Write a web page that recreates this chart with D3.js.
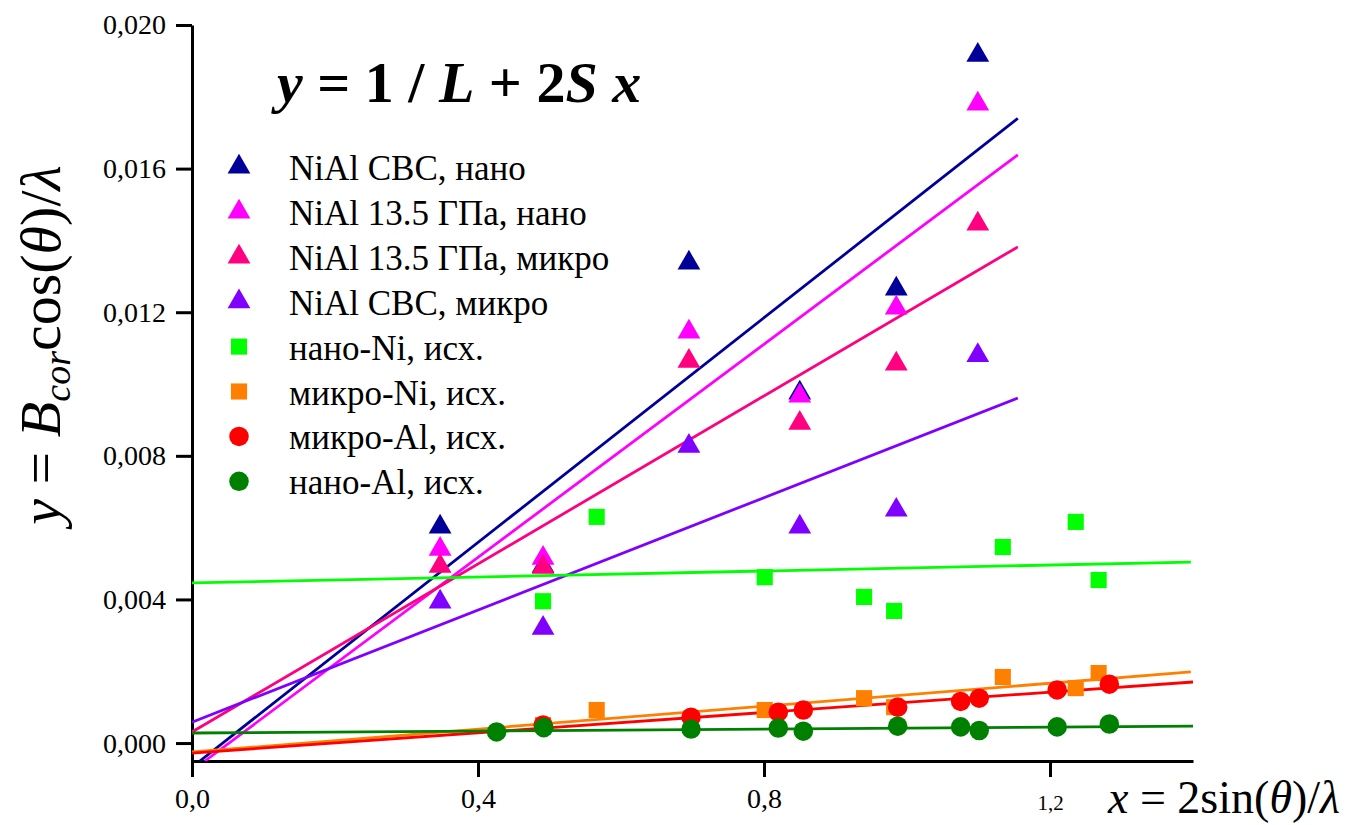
<!DOCTYPE html>
<html>
<head>
  <meta charset="utf-8">
  <title>Williamson-Hall</title>
  <script src="https://d3js.org/d3.v7.min.js"></script>
  <style>
    body { margin: 0; background: #fff; }
  </style>
</head>
<body>
  <div id="chart"></div>

  <script>
    // данные
    const xTriangles = [0.347, 0.491, 0.695, 0.850, 0.985, 1.099];
    const nialCbcNano = [0.00602, 0.00493, 0.01337, 0.00975, 0.01265, 0.01916];
    const nial135Nano = [0.00540, 0.00515, 0.01145, 0.00967, 0.01212, 0.01780];
    const nial135Micro = [0.00493, 0.00490, 0.01064, 0.00891, 0.01056, 0.01446];
    const nialCbcMicro = [0.00393, 0.00320, 0.00827, 0.00602, 0.00649, 0.01080];

    const xNiNano = [0.491, 0.566, 0.801, 0.940, 0.982, 1.134, 1.236, 1.268];
    const niNano = [0.00395, 0.00630, 0.00462, 0.00407, 0.00368, 0.00546, 0.00616, 0.00454];
    const xNiMicro = [0.491, 0.566, 0.801, 0.940, 0.982, 1.134, 1.236, 1.268];
    const niMicro = [0.00050, 0.00092, 0.00092, 0.00125, 0.00100, 0.00184, 0.00153, 0.00195];
    const xAlMicro = [0.491, 0.698, 0.820, 0.855, 0.987, 1.075, 1.101, 1.210, 1.283];
    const alMicro = [0.00050, 0.00072, 0.00086, 0.00092, 0.00100, 0.00116, 0.00125, 0.00148, 0.00164];
    const xAlNano = [0.426, 0.492, 0.698, 0.820, 0.855, 0.987, 1.075, 1.101, 1.210, 1.283];
    const alNano = [0.00031, 0.00043, 0.00039, 0.00042, 0.00033, 0.00047, 0.00045, 0.00035, 0.00045, 0.00053];

    // линии аппроксимации: [x0, y0, x1, y1]
    const fitLines = [
      [0.011, -0.00050, 1.155, 0.01740],
      [0.018, -0.00050, 1.155, 0.01638],
      [0.0, 0.00031, 1.155, 0.01382],
      [0.0, 0.00058, 1.155, 0.00961],
      [0.0, 0.00446, 1.397, 0.00504],
      [0.0, -0.00025, 1.397, 0.00198],
      [0.0, -0.00028, 1.400, 0.00170],
      [0.0, 0.00028, 1.400, 0.00047]
    ];

    const names = ["NiAl CBC, нано", "NiAl 13.5 ГПа, нано", "NiAl 13.5 ГПа, микро", "NiAl CBC, микро",
      "нано-Ni, исх.", "микро-Ni, исх.", "микро-Al, исх.", "нано-Al, исх."];
    const colors = ["#000099", "#ff00ff", "#ff0080", "#8000ff", "#00ff00", "#ff8000", "#ff0000", "#008000"];
    const shapes = ["tri", "tri", "tri", "tri", "sq", "sq", "circ", "circ"];
    const xsList = [xTriangles, xTriangles, xTriangles, xTriangles, xNiNano, xNiMicro, xAlMicro, xAlNano];
    const ysList = [nialCbcNano, nial135Nano, nial135Micro, nialCbcMicro, niNano, niMicro, alMicro, alNano];

    const xMajor = [0, 0.4, 0.8, 1.2];
    const xMinor = [0.2, 0.6, 1.0, 1.4];
    const yMajor = [0, 0.004, 0.008, 0.012, 0.016, 0.020];
    const yMinor = [0.002, 0.006, 0.010, 0.014, 0.018];

    const serif = "'Liberation Serif', 'Times New Roman', serif";
    const width = 1358, height = 825;
    const svg = d3.select("#chart").append("svg")
      .attr("width", width)
      .attr("height", height)
      .attr("font-family", serif);

    const x = d3.scaleLinear().domain([0, 1.4]).range([192, 1193]);
    const y = d3.scaleLinear().domain([-0.0005, 0.020]).range([761, 25]);

    svg.append("clipPath").attr("id", "plot")
      .append("rect")
      .attr("x", 192).attr("y", 25)
      .attr("width", 1001).attr("height", 736);

    // оси
    const comma = f => d => d3.format(f)(d).replace(".", ",");

    const gx = svg.append("g").attr("transform", "translate(0,761)");
    gx.call(d3.axisBottom(x).tickValues(xMinor).tickSize(9).tickSizeOuter(0).tickFormat(""));
    gx.call(d3.axisBottom(x).tickValues(xMajor).tickSize(16).tickPadding(11).tickSizeOuter(0).tickFormat(comma(".1f")));

    const gy = svg.append("g").attr("transform", "translate(192,0)");
    gy.call(d3.axisLeft(y).tickValues(yMinor).tickSize(8).tickSizeOuter(0).tickFormat(""));
    gy.call(d3.axisLeft(y).tickValues(yMajor).tickSize(16).tickPadding(10).tickSizeOuter(0).tickFormat(comma(".3f")));

    svg.selectAll("g").attr("font-family", serif);
    svg.selectAll(".domain").attr("stroke", "#000").attr("stroke-width", 3);
    svg.selectAll(".tick line").attr("stroke", "#000").attr("stroke-width", 3);
    svg.selectAll(".tick text")
      .attr("font-size", 28)
      .attr("fill", "#000");
    gx.selectAll(".tick text").filter(d => d === 1.2).attr("font-size", 21).attr("dy", "1.05em");

    // линии
    const lines = svg.append("g").attr("clip-path", "url(#plot)");
    lines.selectAll("line")
      .data(fitLines)
      .join("line")
      .attr("x1", d => x(d[0])).attr("y1", d => y(d[1]))
      .attr("x2", d => x(d[2])).attr("y2", d => y(d[3]))
      .attr("stroke", (d, i) => colors[i])
      .attr("stroke-width", 2.8);

    // маркеры
    const sym = {
      tri: d3.symbol().type(d3.symbolTriangle).size(225),
      sq: d3.symbol().type(d3.symbolSquare).size(260),
      circ: d3.symbol().type(d3.symbolCircle).size(300)
    };

    xsList.forEach((xs, i) => {
      const pts = xs.map((v, j) => [v, ysList[i][j]]);
      svg.append("g")
        .selectAll("path")
        .data(pts)
        .join("path")
        .attr("transform", d => `translate(${x(d[0])},${y(d[1])})`)
        .attr("d", sym[shapes[i]])
        .attr("fill", colors[i]);
    });

    // легенда
    const legend = svg.append("g");
    names.forEach((name, i) => {
      const cy = 167 + i * 44.9;
      legend.append("path")
        .attr("transform", `translate(239,${cy})`)
        .attr("d", sym[shapes[i]])
        .attr("fill", colors[i]);
      legend.append("text")
        .attr("x", 289)
        .attr("y", cy + 13)
        .attr("font-size", 35)
        .text(name);
    });

    // формула
    const title = svg.append("text")
      .attr("x", 277).attr("y", 102)
      .attr("font-size", 58)
      .attr("font-weight", "bold");
    title.append("tspan").attr("font-style", "italic").text("y");
    title.append("tspan").text(" = 1 / ");
    title.append("tspan").attr("font-style", "italic").text("L");
    title.append("tspan").text(" + 2");
    title.append("tspan").attr("font-style", "italic").text("S x");

    // подписи осей
    const xl = svg.append("text")
      .attr("x", 1108).attr("y", 813)
      .attr("font-size", 46);
    xl.append("tspan").attr("font-style", "italic").text("x");
    xl.append("tspan").text(" = 2sin(");
    xl.append("tspan").attr("font-style", "italic").text("θ");
    xl.append("tspan").text(")/");
    xl.append("tspan").attr("font-style", "italic").text("λ");

    const yl = svg.append("text")
      .attr("transform", "translate(60,345) rotate(-90)")
      .attr("text-anchor", "middle")
      .attr("font-size", 58);
    yl.append("tspan").attr("font-style", "italic").text("y");
    yl.append("tspan").text(" = ");
    yl.append("tspan").attr("font-style", "italic").text("B");
    yl.append("tspan").attr("font-style", "italic").attr("font-size", 38).attr("dy", 10).text("cor");
    yl.append("tspan").attr("dy", -10).text("cos(");
    yl.append("tspan").attr("font-style", "italic").text("θ");
    yl.append("tspan").text(")/");
    yl.append("tspan").attr("font-style", "italic").text("λ");
  </script>
</body>
</html>
